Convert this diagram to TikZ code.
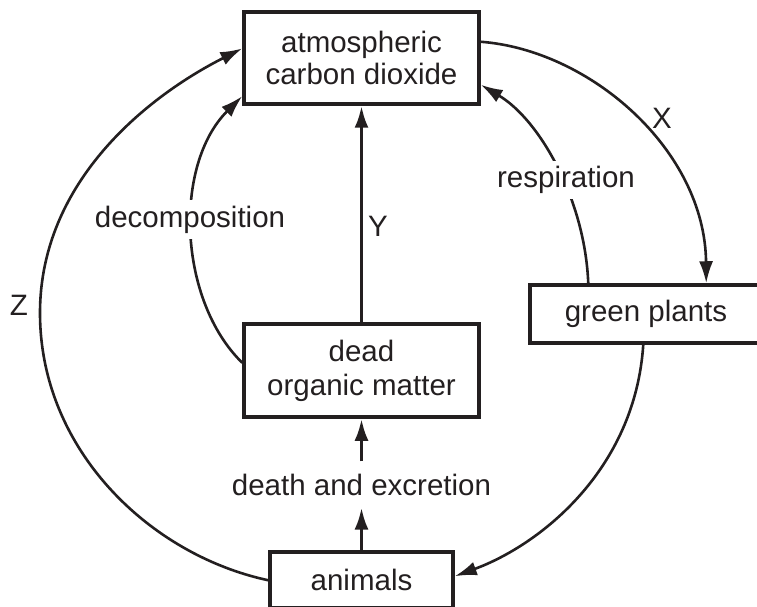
\documentclass[tikz,border=0pt]{standalone}
\usepackage{fontspec}
\setmainfont{Liberation Sans}
\usetikzlibrary{arrows.meta,calc}
\definecolor{ink}{HTML}{231F20}
\begin{document}
\begin{tikzpicture}[x=1pt,y=-1pt,
  box/.style={draw=ink,line width=3.5pt,inner sep=0pt,align=center,text=ink,font=\fontsize{29.5}{32}\selectfont},
  lbl/.style={text=ink,font=\fontsize{29.5}{32}\selectfont,inner sep=0pt},
  flow/.style={draw=ink,line width=2.6pt,-{Latex[length=22pt,width=14pt]}},
  thickflow/.style={flow,line width=3.5pt}]
\useasboundingbox (0,0) rectangle (757,607);

% boxes
\node[box,minimum width=235pt,minimum height=92pt] (co2) at (361.5,58) {atmospheric\\carbon dioxide};
\node[box,minimum width=235pt,minimum height=93pt] (dom) at (361.5,370.5) {dead\\[2pt]organic matter};
\node[box,minimum width=183pt,minimum height=56pt] (animals) at (361.5,580) {animals};
\node[box,minimum width=232pt,minimum height=58pt] (plants) at (646,314) {green plants};

% anchor points on the boxes
\coordinate (xs) at ($(co2.north east)!0.33!(co2.south east)$);
\coordinate (re) at ($(co2.north east)!0.78!(co2.south east)$);
\coordinate (ze) at ($(co2.north west)!0.40!(co2.south west)$);
\coordinate (de) at ($(co2.north west)!0.90!(co2.south west)$);
\coordinate (ds) at ($(dom.north west)!0.42!(dom.south west)$);
\coordinate (zs) at ($(animals.north west)+(0,30)$);
\coordinate (ae) at ($(animals.north east)+(0,26)$);
\coordinate (rs) at ($(plants.north west)+(60,0)$);
\coordinate (xe) at ($(plants.north west)+(178,0)$);
\coordinate (ps) at ($(plants.south west)+(115,0)$);

% curved flows
\draw[flow] (xs) .. controls (590,50) and (705,150) .. (xe);
\draw[flow] (rs) .. controls (585,200) and (540,120) .. (re);
\draw[flow] (ds) .. controls (178,300) and (173,165) .. (de);
\draw[flow] (zs) .. controls (150,555) and (40,450) .. (40,313)
                 .. controls (40,180) and (150,95) .. (ze);
\draw[flow] (ps) .. controls (635,470) and (540,545) .. (ae);

% straight flows
\draw[thickflow] (dom.north) -- (co2.south);
\node[lbl,inner xsep=0pt,inner ysep=12pt] (death) at (361.5,484.5) {death and excretion};
\draw[thickflow] (animals.north) -- (death.south);
\draw[thickflow] (death.north) -- (dom.south);

% labels
\node[lbl,fill=white,inner sep=5pt] (resp) at (566,180) {respiration};
\node[lbl,fill=white,inner sep=6pt] (decomp) at (190,219.5) {decomposition};
\node[lbl] (lx) at (662,118) {X};
\node[lbl] (ly) at (378,226) {Y};
\node[lbl] (lz) at (19,305) {Z};
\end{tikzpicture}
\end{document}
